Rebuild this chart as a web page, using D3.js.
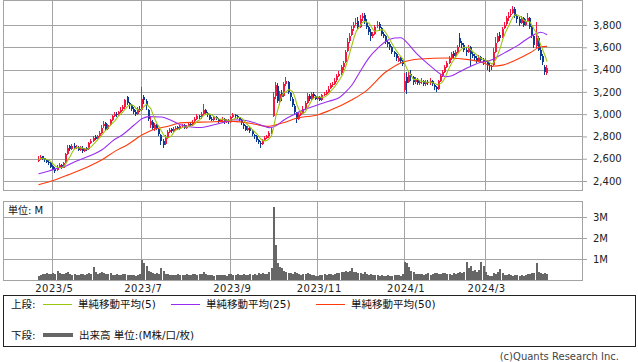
<!DOCTYPE html>
<html><head><meta charset="utf-8">
<script src="https://cdn.jsdelivr.net/npm/d3@7"></script>
<style>body{margin:0;background:#fff}svg{display:block}text{font-family:"DejaVu Sans","Noto Sans CJK JP",sans-serif}</style>
</head><body><svg id="c" width="638" height="362"></svg>
<script>
// ---- data (trading-day index 0..240) ----
const opens = [
2580,2595,2620,2605,2590,2575,2560,2535,2510,2495,
2525,2545,2520,2565,2640,2710,2690,2715,2700,2705,
2680,2700,2670,2695,2685,2740,2760,2795,2780,2805,
2835,2890,2920,2870,2905,2950,2985,3005,2990,3020,
3045,3065,3150,3100,3080,3045,3020,3000,3050,3040,
3150,3120,3040,2900,2930,2870,2900,2870,2810,2760,
2730,2790,2840,2865,2850,2875,2885,2870,2895,2900,
2880,2895,2915,2900,2935,2960,2985,2970,3000,3040,
3010,2990,2960,2950,2970,2955,2940,2950,2960,2930,
2950,2935,2975,2995,2980,2970,2945,2915,2890,2860,
2880,2850,2815,2800,2770,2745,2730,2765,2790,2800,
2830,2980,3160,3250,3110,3190,3160,3270,3290,3190,
3140,3070,3010,2960,2995,3010,3055,3100,3165,3140,
3180,3160,3140,3155,3130,3170,3185,3200,3235,3265,
3275,3305,3345,3365,3420,3470,3570,3660,3710,3770,
3810,3840,3780,3860,3890,3830,3780,3740,3700,3720,
3790,3810,3770,3720,3700,3645,3630,3600,3560,3540,
3480,3500,3480,3220,3330,3290,3360,3330,3290,3310,
3280,3290,3300,3270,3290,3280,3300,3265,3240,3230,
3300,3340,3380,3420,3460,3500,3545,3520,3560,3680,
3640,3620,3580,3560,3600,3540,3520,3500,3480,3510,
3490,3470,3480,3440,3430,3440,3560,3650,3710,3690,
3770,3810,3860,3890,3910,3940,3880,3850,3820,3860,
3800,3840,3860,3780,3700,3610,3680,3580,3520,3420,
3370];
const closes = [
2590,2615,2600,2590,2570,2560,2530,2510,2490,2530,
2545,2520,2560,2640,2700,2690,2710,2700,2705,2680,
2700,2670,2690,2680,2740,2760,2790,2780,2800,2830,
2880,2910,2870,2900,2950,2980,3000,2990,3020,3040,
3060,3130,3100,3080,3050,3020,3000,3050,3040,3140,
3130,3080,2960,2940,2880,2900,2880,2820,2760,2720,
2790,2840,2860,2850,2870,2880,2870,2890,2900,2880,
2890,2910,2900,2930,2960,2980,2970,3000,3040,3010,
2990,2960,2950,2970,2960,2940,2950,2960,2930,2950,
2930,2970,2990,2980,2970,2950,2920,2890,2860,2880,
2850,2820,2800,2770,2750,2730,2760,2790,2800,2830,
2860,3150,3260,3120,3180,3150,3270,3300,3200,3150,
3080,3020,2960,2990,3010,3050,3100,3160,3140,3180,
3160,3140,3150,3130,3170,3180,3200,3230,3260,3270,
3300,3340,3360,3420,3460,3560,3650,3700,3760,3800,
3820,3780,3850,3880,3830,3780,3740,3700,3720,3780,
3800,3770,3720,3700,3650,3630,3600,3560,3540,3500,
3500,3480,3450,3300,3280,3350,3330,3290,3310,3280,
3290,3300,3270,3290,3280,3300,3270,3240,3230,3300,
3340,3380,3420,3460,3500,3540,3520,3560,3600,3640,
3620,3580,3560,3600,3540,3520,3500,3480,3510,3490,
3470,3480,3440,3430,3420,3560,3640,3700,3680,3760,
3800,3860,3880,3900,3940,3880,3850,3820,3860,3800,
3830,3860,3780,3700,3620,3680,3580,3520,3470,3380,
3410];
const highs = [
2620,2630,2625,2610,2600,2585,2570,2540,2525,2540,
2560,2555,2570,2650,2720,2720,2730,2740,2720,2715,
2710,2710,2700,2705,2750,2775,2800,2810,2815,2845,
2900,2935,2930,2915,2960,2995,3020,3015,3030,3060,
3080,3140,3165,3110,3090,3060,3040,3060,3070,3240,
3170,3140,3050,2980,2950,2920,2915,2880,2820,2780,
2810,2855,2880,2875,2885,2895,2895,2900,2915,2910,
2905,2920,2925,2945,2975,3000,2995,3015,3090,3050,
3020,3000,2970,2985,2980,2965,2960,2975,2965,2960,
2960,2985,3010,3005,2990,2975,2955,2925,2900,2895,
2890,2860,2825,2810,2780,2760,2775,2800,2815,2845,
2880,3200,3290,3280,3210,3220,3290,3335,3300,3200,
3150,3090,3020,3010,3030,3070,3120,3190,3180,3200,
3195,3170,3165,3165,3180,3200,3220,3250,3280,3290,
3320,3360,3390,3440,3480,3580,3680,3730,3790,3830,
3860,3870,3890,3910,3905,3850,3790,3760,3740,3800,
3840,3830,3780,3740,3710,3660,3650,3610,3570,3550,
3520,3510,3490,3370,3380,3380,3400,3340,3330,3320,
3310,3320,3310,3305,3310,3320,3310,3280,3250,3310,
3360,3400,3440,3480,3520,3560,3570,3580,3620,3730,
3660,3640,3600,3620,3610,3560,3540,3520,3530,3520,
3500,3500,3490,3460,3445,3590,3690,3730,3740,3780,
3830,3880,3920,3940,3970,3960,3900,3870,3880,3870,
3850,3910,3870,3790,3710,3830,3700,3600,3540,3440,
3440];
const lows = [
2570,2585,2590,2575,2560,2545,2520,2495,2470,2490,
2515,2505,2515,2560,2630,2670,2680,2690,2685,2665,
2670,2655,2660,2665,2680,2730,2750,2765,2770,2795,
2825,2875,2850,2860,2895,2940,2970,2975,2980,3010,
3030,3050,3080,3050,3030,3000,2985,2995,3020,3030,
3090,3040,2940,2880,2860,2850,2860,2800,2720,2700,
2720,2780,2830,2835,2840,2860,2855,2860,2885,2870,
2870,2885,2890,2895,2925,2950,2955,2960,2995,3000,
2975,2945,2935,2940,2945,2925,2930,2940,2915,2920,
2915,2925,2965,2965,2955,2935,2905,2870,2845,2850,
2835,2800,2780,2750,2730,2700,2720,2755,2780,2790,
2820,2970,3140,3100,3080,3120,3150,3250,3180,3120,
3060,3000,2920,2950,2980,3000,3040,3090,3120,3130,
3140,3125,3130,3120,3120,3160,3175,3190,3225,3240,
3260,3290,3330,3350,3400,3460,3560,3640,3700,3750,
3790,3760,3770,3840,3810,3760,3710,3660,3680,3710,
3770,3750,3700,3680,3630,3600,3580,3540,3510,3480,
3470,3460,3430,3200,3180,3280,3300,3260,3270,3260,
3265,3275,3250,3255,3260,3265,3250,3220,3200,3220,
3290,3330,3370,3410,3450,3490,3500,3510,3550,3600,
3590,3560,3520,3550,3420,3500,3480,3460,3470,3470,
3440,3450,3400,3380,3400,3430,3550,3640,3660,3680,
3760,3790,3840,3870,3900,3860,3820,3790,3810,3780,
3790,3830,3760,3680,3590,3590,3570,3490,3440,3350,
3350];
const volumes = [
0.20,0.22,0.30,0.28,0.32,0.30,0.27,0.33,0.30,0.43,
0.35,0.30,0.28,0.32,0.36,0.30,0.25,0.28,0.26,0.24,
0.27,0.30,0.25,0.28,0.32,0.30,0.63,0.40,0.30,0.35,
0.38,0.33,0.30,0.28,0.32,0.26,0.24,0.27,0.22,0.25,
0.28,0.30,0.26,0.23,0.22,0.25,0.20,0.24,0.30,0.95,
0.83,0.67,0.45,0.40,0.35,0.30,0.32,0.28,0.57,0.45,
0.30,0.28,0.25,0.26,0.24,0.22,0.27,0.25,0.23,0.26,
0.28,0.25,0.22,0.30,0.27,0.25,0.30,0.28,0.37,0.30,
0.25,0.22,0.24,0.20,0.23,0.25,0.22,0.26,0.24,0.20,
0.27,0.30,0.25,0.22,0.28,0.24,0.26,0.30,0.22,0.25,
0.28,0.24,0.30,0.26,0.32,0.28,0.35,0.30,0.27,0.40,
0.55,3.50,1.67,0.80,0.60,0.55,0.42,0.38,0.33,0.35,
0.30,0.36,0.32,0.28,0.25,0.30,0.27,0.35,0.28,0.25,
0.22,0.20,0.18,0.22,0.25,0.27,0.24,0.28,0.30,0.26,
0.30,0.35,0.33,0.37,0.40,0.42,0.38,0.45,0.56,0.40,
0.38,0.35,0.32,0.30,0.36,0.28,0.25,0.27,0.23,0.26,
0.22,0.20,0.24,0.21,0.19,0.23,0.20,0.18,0.22,0.25,
0.24,0.21,0.27,0.87,0.80,0.60,0.45,0.38,0.30,0.28,
0.30,0.27,0.25,0.28,0.32,0.26,0.30,0.35,0.33,0.28,
0.30,0.35,0.32,0.28,0.30,0.26,0.33,0.30,0.35,0.40,
0.32,0.38,0.87,0.55,0.66,0.45,0.47,0.40,0.48,0.87,
0.66,0.40,0.24,0.20,0.17,0.35,0.30,0.38,0.52,0.33,
0.25,0.22,0.27,0.24,0.20,0.22,0.26,0.21,0.24,0.20,
0.25,0.28,0.30,0.33,0.35,0.82,0.40,0.32,0.30,0.34,
0.28];
// moving averages (day index, value)
const ma25Days = [0,5,9,13,18,24,30,35,40,45,49,52,58,62,67,72,77,82,87,92,97,102,106,109,112,116,121,126,132,137,142,145,148,152,156,160,165,168,171,174,178,182,186,190,192,195,198,203,208,214,217,221,226,230,234,237,240];
const ma25Vals = [2465,2490,2515,2535,2580,2625,2680,2760,2820,2900,2960,2978,2975,2950,2905,2885,2880,2900,2925,2950,2945,2922,2895,2878,2895,2950,3000,3045,3084,3115,3150,3200,3264,3390,3507,3590,3665,3683,3686,3640,3551,3480,3415,3355,3337,3345,3373,3420,3461,3488,3520,3562,3615,3668,3715,3735,3712];
const ma50Days = [0,8,14,22,30,36,42,49,54,62,67,80,92,102,108,115,122,132,137,148,154,164,171,180,193,203,210,214,219,224,232,237,240];
const ma50Vals = [2367,2412,2455,2517,2591,2666,2726,2815,2860,2895,2922,2930,2935,2910,2890,2920,2965,2995,3030,3130,3200,3380,3460,3495,3504,3489,3460,3430,3440,3475,3550,3605,3608];
const monthIdx = [7,49,91,132,173,211];
const monthLabels = ["2023/5","2023/7","2023/9","2023/11","2024/1","2024/3"];
const priceTicks = [2400,2600,2800,3000,3200,3400,3600,3800];
const volTicks = [1,2,3];
const legendLabels = ["単純移動平均(5)","単純移動平均(25)","単純移動平均(50)"];

// ---- layout ----
const svg = d3.select("#c");
svg.append("rect").attr("width",638).attr("height",362).attr("fill","#fff");
const L=3, R=582, T=0, B=190, VT=201, VB=280;
const x = d3.scaleLinear().domain([0,240]).range([37.5,546.1]);
const y = d3.scaleLinear().domain([2400,3800]).range([181,25]);
const yv = d3.scaleLinear().domain([0,3]).range([280,217]);
const grid = "#a3a3a3", txt = "#222";
const cx = i => Math.round(x(i));
const UP = "#f5173f", DN = "#0d3b94";

// gridlines
const gg = svg.append("g");
gg.selectAll(".hg").data(priceTicks).join("line")
  .attr("x1",L).attr("x2",R).attr("y1",d=>Math.round(y(d))+0.5).attr("y2",d=>Math.round(y(d))+0.5).attr("stroke",grid);
gg.selectAll(".vg").data(monthIdx).join("line")
  .attr("x1",d=>cx(d)+0.5).attr("x2",d=>cx(d)+0.5).attr("y1",T).attr("y2",B).attr("stroke",grid);
gg.selectAll(".hv").data(volTicks).join("line")
  .attr("x1",L).attr("x2",R).attr("y1",d=>Math.round(yv(d))+0.5).attr("y2",d=>Math.round(yv(d))+0.5).attr("stroke",grid);
gg.selectAll(".vv").data(monthIdx).join("line")
  .attr("x1",d=>cx(d)+0.5).attr("x2",d=>cx(d)+0.5).attr("y1",VT).attr("y2",VB).attr("stroke",grid);

// axes
const ay = svg.append("g").attr("transform",`translate(${R},0)`)
  .call(d3.axisRight(y).tickValues(priceTicks).tickSize(5).tickPadding(6).tickFormat(d3.format(",")));
const av = svg.append("g").attr("transform",`translate(${R},0)`)
  .call(d3.axisRight(yv).tickValues(volTicks).tickSize(5).tickPadding(6).tickFormat(d=>d+"M"));
[ay,av].forEach(a=>{a.select(".domain").remove();a.selectAll("line").attr("stroke",grid);
  a.selectAll("text").attr("fill",txt).style("font-size","10px").style("font-family",'"DejaVu Sans"');});

// candles
svg.append("clipPath").attr("id","cp").append("rect").attr("x",L+1).attr("y",T+1).attr("width",R-L-1).attr("height",B-T-1);
const cg = svg.append("g").attr("clip-path","url(#cp)");
const idx = d3.range(closes.length);
cg.selectAll(".wick").data(idx).join("rect")
  .attr("x",i=>cx(i)).attr("width",1)
  .attr("y",i=>Math.round(y(highs[i]))).attr("height",i=>Math.max(1,Math.round(y(lows[i]))-Math.round(y(highs[i]))))
  .attr("fill",i=>closes[i]>=opens[i]?UP:DN);
cg.selectAll(".body").data(idx).join("rect")
  .attr("x",i=>cx(i)).attr("width",2)
  .attr("y",i=>Math.round(y(Math.max(opens[i],closes[i]))))
  .attr("height",i=>Math.max(1,Math.round(y(Math.min(opens[i],closes[i])))-Math.round(y(Math.max(opens[i],closes[i])))))
  .attr("fill",i=>closes[i]>=opens[i]?UP:DN);

// moving averages
const ma5 = closes.map((c,i)=>d3.mean(closes.slice(Math.max(0,i-4),i+1)));
const line = d3.line().x(d=>x(d[0])+1).y(d=>y(d[1]));
cg.append("path").datum(ma50Days.map((d,k)=>[d,ma50Vals[k]])).attr("d",line.curve(d3.curveMonotoneX))
  .attr("fill","none").attr("stroke","#ff3a0a").attr("stroke-width",1.1);
cg.append("path").datum(ma25Days.map((d,k)=>[d,ma25Vals[k]])).attr("d",line.curve(d3.curveMonotoneX))
  .attr("fill","none").attr("stroke","#9a2cf0").attr("stroke-width",1.1);
cg.append("path").datum(ma5.map((v,i)=>[i,v])).attr("d",line.curve(d3.curveLinear))
  .attr("fill","none").attr("stroke","#9cc510").attr("stroke-width",1.1);

// volume bars
svg.append("g").selectAll("rect").data(idx).join("rect")
  .attr("x",i=>cx(i)).attr("width",2)
  .attr("y",i=>Math.round(yv(volumes[i]))).attr("height",i=>VB-Math.round(yv(volumes[i])))
  .attr("fill","#666");

// frames
svg.append("rect").attr("x",L+0.5).attr("y",T+0.5).attr("width",R-L).attr("height",B-T).attr("fill","none").attr("stroke",grid);
svg.append("rect").attr("x",L+0.5).attr("y",VT+0.5).attr("width",R-L).attr("height",VB-VT).attr("fill","none").attr("stroke",grid);

svg.append("text").attr("x",8).attr("y",214).attr("fill","#111").style("font-size","10px").text("単位: M");

// x labels
svg.append("g").selectAll("text").data(monthIdx).join("text")
  .attr("x",d=>x(d)+2).attr("y",292).attr("text-anchor","middle").attr("fill",txt)
  .style("font-size","10px").style("letter-spacing","0.5px").text((d,k)=>monthLabels[k]);

// legend
const lg = svg.append("g");
lg.append("rect").attr("x",3.5).attr("y",295.5).attr("width",632).attr("height",51).attr("fill","#fff").attr("stroke","#222");
const fs = "10.5px";
lg.append("text").attr("x",11).attr("y",308).style("font-size",fs).attr("fill","#111").text("上段:");
const lx = [43,171,316], lc = ["#9cc510","#9a2cf0","#ff3a0a"];
legendLabels.forEach((t,k)=>{
  lg.append("line").attr("x1",lx[k]).attr("x2",lx[k]+29).attr("y1",304.5).attr("y2",304.5).attr("stroke",lc[k]);
  lg.append("text").attr("x",lx[k]+35).attr("y",308).style("font-size",fs).attr("fill","#111").text(t);
});
lg.append("text").attr("x",11).attr("y",339).style("font-size",fs).attr("fill","#111").text("下段:");
lg.append("rect").attr("x",43).attr("y",333).attr("width",30).attr("height",4).attr("fill","#666");
lg.append("text").attr("x",79).attr("y",339).style("font-size",fs).attr("fill","#111").text("出来高 単位:(M株/口/枚)");

svg.append("text").attr("x",619).attr("y",360).attr("text-anchor","end").attr("fill","#444")
  .style("font-size","10px").text("(c)Quants Research Inc.");
</script></body></html>
